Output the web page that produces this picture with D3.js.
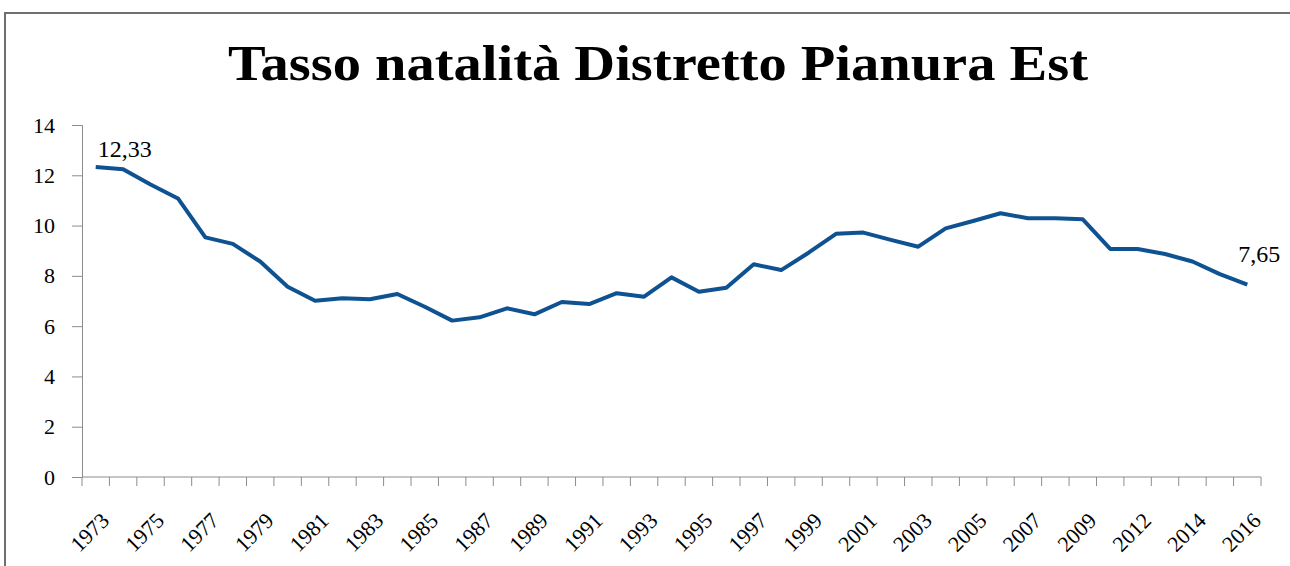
<html>
<script src='https://d3js.org/d3.v7.min.js'></script>
<style>
    body {
        margin: 0;
        overflow: hidden;
        background: #fff;
        font-family: 'Liberation Serif', 'DejaVu Serif', serif;
    }
</style>

<body>
    <svg class='chart' width=1290 height=566></svg>
</body>

<script>
    // years on the category axis (2011 missing in the source)
    var years = ['1973', '1974', '1975', '1976', '1977', '1978', '1979', '1980', '1981', '1982',
        '1983', '1984', '1985', '1986', '1987', '1988', '1989', '1990', '1991', '1992',
        '1993', '1994', '1995', '1996', '1997', '1998', '1999', '2000', '2001', '2002',
        '2003', '2004', '2005', '2006', '2007', '2008', '2009', '2010', '2012', '2013',
        '2014', '2015', '2016'];

    var tasso = [12.33, 12.24, 11.63, 11.08, 9.53, 9.27, 8.57, 7.57, 7.01, 7.11,
        7.07, 7.28, 6.77, 6.22, 6.35, 6.71, 6.47, 6.96, 6.88, 7.31,
        7.17, 7.94, 7.37, 7.53, 8.46, 8.23, 8.92, 9.67, 9.72, 9.43,
        9.16, 9.89, 10.18, 10.49, 10.29, 10.29, 10.25, 9.07, 9.07, 8.87,
        8.57, 8.07, 7.65];

    var yTicks = [0, 2, 4, 6, 8, 10, 12, 14];

    var title = 'Tasso natalità Distretto Pianura Est';

    function draw() {
        var plotL = 82, plotR = 1261, plotT = 125, plotB = 477;

        var svg = d3.select('svg');

        // outer frame of the pasted chart
        svg.append('rect')
            .attr('x', 5)
            .attr('y', 13)
            .attr('width', 1400)
            .attr('height', 700)
            .attr('fill', 'none')
            .attr('stroke', '#6f6f6f')
            .attr('stroke-width', 2);

        svg.append('text')
            .attr('x', 658)
            .attr('y', 80)
            .attr('text-anchor', 'middle')
            .attr('font-size', 51)
            .attr('font-weight', 'bold')
            .attr('textLength', 860)
            .attr('lengthAdjust', 'spacingAndGlyphs')
            .text(title);

        var x = d3.scaleBand()
            .domain(years)
            .range([plotL, plotR]);

        var y = d3.scaleLinear()
            .domain([0, 14])
            .range([plotB, plotT]);

        // y axis
        var yaxis = svg.append('g')
            .attr('transform', 'translate(' + plotL + ',0)')
            .call(d3.axisLeft(y).tickValues(yTicks).tickSize(10).tickPadding(17));

        yaxis.select('.domain').attr('stroke', '#8c8c8c');
        yaxis.selectAll('.tick line').attr('stroke', '#8c8c8c');
        yaxis.selectAll('.tick text')
            .attr('font-family', "'Liberation Serif', serif")
            .attr('font-size', 22)
            .attr('fill', '#000');

        // x axis: ticks between categories, labels every second year
        var xaxis = svg.append('g')
            .attr('transform', 'translate(0,' + plotB + ')');

        xaxis.append('line')
            .attr('x1', plotL)
            .attr('x2', plotR)
            .attr('stroke', '#8c8c8c');

        xaxis.selectAll('.tk')
            .data(years.concat(['end']))
            .enter()
            .append('line')
            .attr('class', 'tk')
            .attr('x1', function(d, i) {
                return i < years.length ? x(d) : plotR;
            })
            .attr('x2', function(d, i) {
                return i < years.length ? x(d) : plotR;
            })
            .attr('y1', 0)
            .attr('y2', 9)
            .attr('stroke', '#8c8c8c');

        xaxis.selectAll('.lbl')
            .data(years.filter(function(d, i) {
                return i % 2 == 0;
            }))
            .enter()
            .append('text')
            .attr('class', 'lbl')
            .attr('transform', function(d) {
                return 'translate(' + (x(d) + x.bandwidth() / 2 + 4) + ',' + 34 + ')rotate(-45)';
            })
            .attr('text-anchor', 'end')
            .attr('dy', '0.7em')
            .attr('font-size', 22)
            .attr('fill', '#000')
            .text(function(d) {
                return d;
            });

        svg.append('path')
            .datum(tasso)
            .attr('fill', 'none')
            .attr('stroke', '#0f5291')
            .attr('stroke-width', 4)
            .attr('stroke-linejoin', 'round')
            .attr('d', d3.line()
                .x(function(d, i) {
                    return x(years[i]) + x.bandwidth() / 2;
                })
                .y(function(d) {
                    return y(d);
                })
            );

        // first and last value labels
        var ends = [0, tasso.length - 1];
        svg.selectAll('.val')
            .data(ends)
            .enter()
            .append('text')
            .attr('class', 'val')
            .attr('x', function(i) {
                return x(years[i]) + x.bandwidth() / 2 + (i == 0 ? 2 : -9);
            })
            .attr('y', function(i) {
                return y(tasso[i]) - (i == 0 ? 10 : 23);
            })
            .attr('font-size', 24)
            .text(function(i) {
                return d3.format('.2f')(tasso[i]).replace('.', ',');
            });
    }

    draw();
</script>

</html>
